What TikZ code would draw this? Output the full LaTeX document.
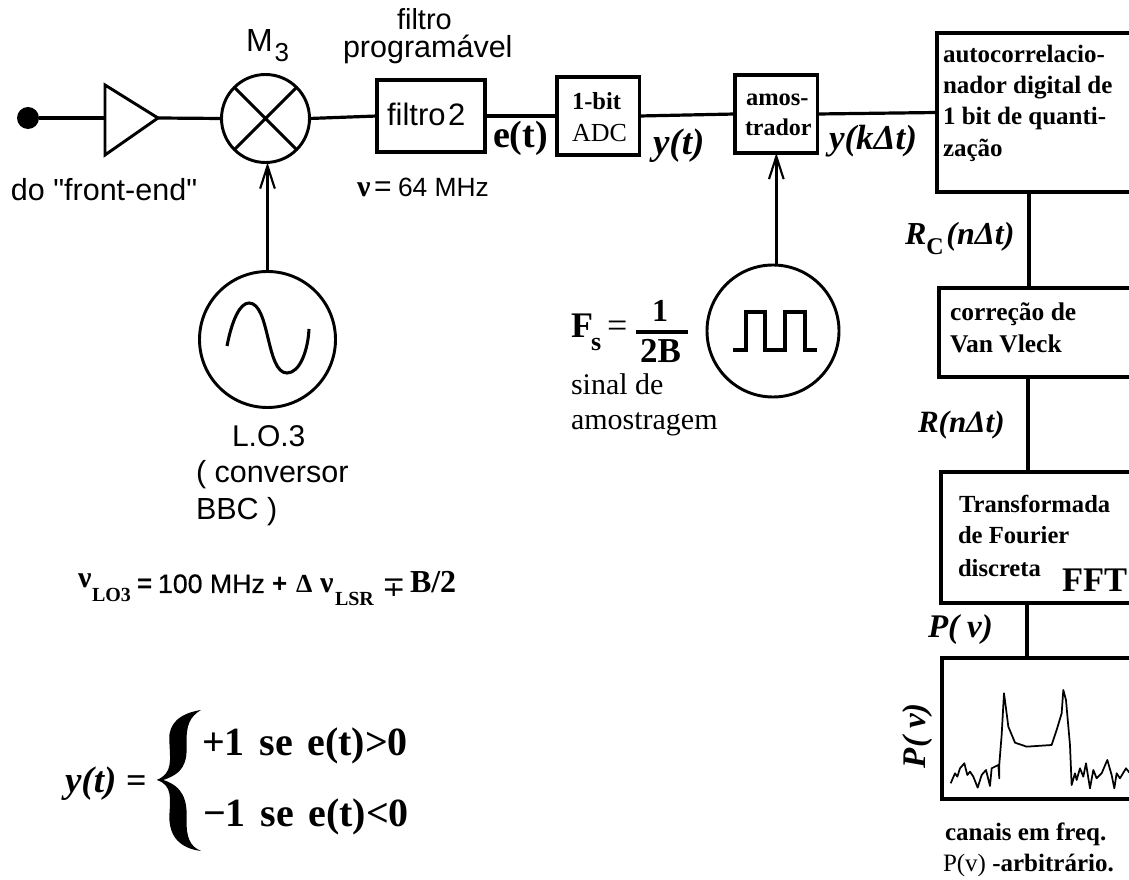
\documentclass[tikz,border=0pt]{standalone}
\usepackage{fontspec}
\setmainfont{Liberation Serif}
\setsansfont{Liberation Sans}
\newfontfamily\qfont{Liberation Sans}
\newfontfamily\djvfont{DejaVu Sans}
\usetikzlibrary{arrows.meta}
\newcommand{\fs}[1]{\pgfmathsetmacro\tmpfs{#1*0.75}\fontsize{\tmpfs}{\tmpfs}\selectfont}
\tikzset{
  wire/.style={line width=2.4pt},
  feed/.style={line width=2.3pt,-{Straight Barb[length=17pt,width=11pt,line width=1.6pt]}},
  blockbox/.style={draw,line width=2.4pt,anchor=north west,inner sep=0pt,outer sep=0pt},
  ring/.style={draw,circle,line width=2.2pt,inner sep=0pt,outer sep=0pt},
  txt/.style={inner sep=0pt,outer sep=0pt,anchor=base west},
  sa/.style={txt,font=\sffamily\fs{#1}},
  sr/.style={txt,font=\rmfamily\fs{#1}},
  srb/.style={txt,font=\rmfamily\bfseries\fs{#1}},
  sri/.style={txt,font=\rmfamily\bfseries\itshape\fs{#1}},
}
\newcommand{\sbx}[2]{\raisebox{#1}{#2}}
\begin{document}
\begin{tikzpicture}[x=0.75pt,y=-0.75pt]
\useasboundingbox (0,0) rectangle (1129,880);
\clip (0,0) rectangle (1129,880);
% blocks
\node[fill=black,circle,inner sep=0pt,minimum size=16.5pt,outer sep=0pt] (src) at (28,118) {};
\coordinate (ampin) at (105,118);
\coordinate (ampout) at (158,118);
\draw[line width=2.2pt,line join=miter] (105,85) -- (105,155) -- (ampout) -- cycle;
\node[ring,minimum size=66pt] (mix) at (265.5,118.5) {};
\draw[line width=2.2pt] (mix.45) -- (mix.225) (mix.135) -- (mix.315);
\node[blockbox,minimum width=81pt,minimum height=54pt] (filt) at (377,80) {};
\node[blockbox,minimum width=62pt,minimum height=58.5pt] (adc) at (557,77) {};
\node[blockbox,minimum width=62pt,minimum height=58.5pt] (amos) at (735,75) {};
\node[blockbox,minimum width=225pt,minimum height=119.25pt] (auto) at (937,33) {};
\node[blockbox,minimum width=225pt,minimum height=66.75pt] (vv) at (939,288) {};
\node[blockbox,minimum width=225pt,minimum height=98.25pt] (fft) at (941,472) {};
\node[blockbox,minimum width=225pt,minimum height=105.75pt] (spec) at (942,658) {};
\node[ring,minimum size=102pt] (lo) at (267.5,339.5) {};
\node[ring,minimum size=99pt] (clk) at (773,331) {};
% connectors
\coordinate (xa) at (1029,0);
\coordinate (xb) at (1028,0);
\coordinate (xc) at (1027,0);
\draw[wire] (src) -- (ampin);
\draw[wire] (ampout) -- (mix.west);
\draw[wire] (mix.east) -- (filt.west);
\draw[wire] (filt.east) -- (adc.west);
\draw[wire] (adc.east) -- (amos.west);
\draw[wire] (amos.east) -- (auto.west);
\draw[wire] (auto.south -| xa) -- (vv.north -| xa);
\draw[wire] (vv.south -| xb) -- (fft.north -| xb);
\draw[wire] (fft.south -| xc) -- (spec.north -| xc);
\draw[feed] (lo.north) -- (lo.north |- mix.south);
\draw[feed] (amos.south |- clk.north) -- (amos.south);
% waveforms
\draw[line width=2.3pt] (227,346) .. controls (232,320) and (240,303) .. (249,303) .. controls (270,303) and (266,373) .. (287,373) .. controls (300,373) and (308,350) .. (309,329);
\draw[line width=2.3pt] (733,350) -- (746,350) -- (746,312) -- (765,312) -- (765,350) -- (785,350) -- (785,312) -- (805,312) -- (805,350) -- (817,350);
\begin{scope}[shift={(880,620)},scale=0.3333]
\draw[line width=1.3pt,line join=round] (212,490)--(225,460)--(232,470)--(240,445)--(253,430)--(262,465)--(270,455)--(280,470)--(293,503)--(305,465)--(318,450)--(330,498)--(335,445)--(355,435)--(358,475)--(358,432)--(365,345)--(372,220)--(378,265)--(385,320)--(405,368)--(440,380)--(515,375)--(530,330)--(545,280)--(550,210)--(558,240)--(570,375)--(575,495)--(585,460)--(590,480)--(600,445)--(610,470)--(618,430)--(630,505)--(640,450)--(650,475)--(665,460)--(682,420)--(695,465)--(703,505)--(710,460)--(720,475)--(738,445)--(750,460);
\end{scope}
% brace
\begin{scope}[shift={(30,560)},scale=0.3333]
\fill (513,450) .. controls (450,460) and (415,490) .. (418,540) .. controls (420,600) and (430,640) .. (380,660) .. controls (430,675) and (420,720) .. (418,770) .. controls (418,830) and (450,865) .. (513,873) .. controls (480,860) and (468,830) .. (470,780) .. controls (472,720) and (460,680) .. (400,660) .. controls (460,640) and (472,610) .. (470,550) .. controls (468,495) and (480,470) .. (513,450) -- cycle;
\end{scope}
% labels, sans
\node[sa=29] (t1) at (397,30) {filtro};
\node[sa=30.5] (t2) at (343,58) {programável};
\node[sa=32] (t3) at (246,52) {M\hspace{1.5pt}\sbx{-7pt}{\fs{26}3}};
\node[sa=31] (t4) at (387,126) {filtro\hspace{2pt}2};
\node[txt,font=\qfont\fs{30.5}] (t5) at (11,201) {do "front-end"};
\node[srb=30] (t6a) at (357,197) {ν};
\node[sa=30] (t6b) at (374,197) {=};
\node[sa=26.4] (t6) at (398,197) {64 MHz};
\node[sa=30] (t7) at (232,447) {L.O.3};
\node[sa=30.5] (t8) at (196,483) {( conversor};
\node[sa=30.5] (t9) at (196,520) {BBC )};
% formula LO3
\node[srb=30] (f1) at (78,588) {ν};
\node[srb=20] (f2) at (92,601) {LO3};
\node[txt,font=\sffamily\bfseries\fs{26}] (f3) at (137,593) {=};
\node[txt,font=\sffamily\fs{26.7}\addfontfeatures{FakeBold=0.5}] (f4) at (158,593) {100 MHz};
\node[txt,font=\sffamily\bfseries\fs{26}] (f5) at (272,593) {+};
\node[srb=26] (f6) at (296,593) {Δ};
\node[srb=30] (f7) at (320,593) {ν};
\node[srb=20] (f8) at (335,605) {LSR};
\node[txt,font=\djvfont\fs{28}] (f9) at (382,597) {∓};
\node[srb=32] (f10) at (410,593) {B/2};
% signal labels
\node[srb=38] (e1) at (493,148) {e(t)};
\node[sri=37] (y1) at (653,155) {y(t)};
\node[sri=35] (y2) at (829,150) {y(kΔt)};
\node[sri=32] (r1) at (905,245) {R\sbx{-7pt}{\bfseries\upshape\fs{24}C}\hspace{2pt}(nΔt)};
\node[sri=31] (r2) at (918,433) {R(nΔt)};
\node[sri=33] (p1) at (928,638) {P(\hspace{6pt}ν)};
\node[sri=33,rotate=90] (p2) at (925,768) {P(\hspace{6pt}ν)};
% box texts
\node[srb=24.5] (a1) at (572,110) {1-bit};
\node[sr=26] (a2) at (572,142) {ADC};
\node[srb=24.5] (b1) at (746,106) {amos-};
\node[srb=24] (b2) at (745,136) {trador};
\node[srb=25] (c1) at (943,63) {autocorrelacio-};
\node[srb=25] (c2) at (943,94) {nador digital de};
\node[srb=25] (c3) at (943,125) {1 bit de quanti-};
\node[srb=25] (c4) at (943,157) {zação};
\node[srb=25.5] (d1) at (950,321) {correção de};
\node[srb=25.5] (d2) at (950,353) {Van Vleck};
\node[srb=24.6] (g1) at (959,513) {Transformada};
\node[srb=24.6] (g2) at (958,544) {de Fourier};
\node[srb=24.6] (g3) at (958,576) {discreta};
\node[srb=34.5] (g4) at (1062,591) {FFT};
\node[srb=25] (h1) at (945,840) {canais em freq.};
\node[srb=25] (h2) at (943,871) {\mdseries P(v)\bfseries\ -arbitrário.};
% sampling
\node[srb=36] (s1) at (571,338) {F};
\node[srb=26] (s2) at (591,351) {s};
\node[sr=36] (s3) at (607,338) {=};
\node[srb=32] (s4) at (652,322) {1};
\node[srb=35] (s5) at (640,363) {2B};
\coordinate (fa) at (636,332);
\coordinate (fb) at (688,332);
\draw[line width=2.4pt] (fa) -- (fb);
\node[sr=30] (s6) at (571,395) {sinal de};
\node[sr=30] (s7) at (571,430) {amostragem};
% y(t) definition
\node[sri=37] (q1) at (65,792) {y(t)};
\node[srb=36] (q2) at (126,792) {=};
\node[srb=40] (q3) at (202,755) {+1\hspace{11pt}se\hspace{11pt}e(t)>0};
\node[srb=40] (q4) at (203,826) {\textminus 1\hspace{11pt}se\hspace{11pt}e(t)<0};
\end{tikzpicture}
\end{document}
